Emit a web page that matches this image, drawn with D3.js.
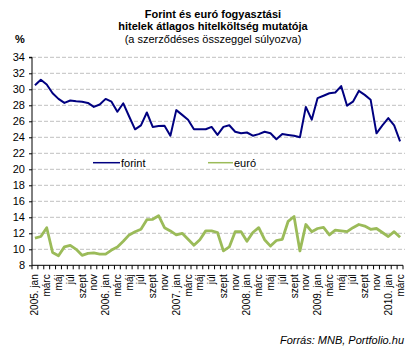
<!DOCTYPE html>
<html><head><meta charset="utf-8">
<script src="https://cdn.jsdelivr.net/npm/d3@7"></script>
<style>body{margin:0;background:#fff}svg{display:block;font-family:"Liberation Sans",Arial,sans-serif}</style>
</head><body><svg id="c" width="413" height="352"></svg>
<script>
const years = ["2005","2006","2007","2008","2009","2010"];
const monthNames = ["jan","febr","márc","ápr","máj","jún","júl","aug","szept","okt","nov","dec"];
const forint = [30.5,31.2,30.6,29.5,28.8,28.3,28.6,28.5,28.45,28.3,27.8,28.1,
  28.8,28.45,27.2,28.25,26.6,25.0,25.5,27.1,25.3,25.4,25.45,24.2,
  27.4,26.8,26.2,25.0,25.0,25.0,25.3,24.3,25.3,25.5,24.7,24.5,
  24.6,24.2,24.4,24.7,24.5,23.75,24.4,24.3,24.2,24.0,27.8,26.2,
  28.9,29.2,29.5,29.6,30.4,27.95,28.45,29.8,29.3,28.7,24.5,25.5,
  26.4,25.5,23.5];
const euro = [11.4,11.6,12.7,9.6,9.2,10.3,10.5,10.0,9.25,9.5,9.55,9.4,
  9.4,9.9,10.3,11.0,11.8,12.2,12.5,13.7,13.75,14.2,12.7,12.3,
  11.8,12.0,11.25,10.5,11.2,12.3,12.3,12.1,9.8,10.3,12.2,12.2,
  11.0,12.1,12.7,11.2,10.4,11.1,11.25,13.5,14.1,9.8,13.1,12.2,
  12.6,12.75,11.8,12.4,12.3,12.2,12.7,13.1,12.9,12.5,12.6,12.1,
  11.6,12.2,11.5];
const yTicks = [8,10,12,14,16,18,20,22,24,26,28,30,32,34];
const seriesNames = ["forint","euró"];
const seriesColors = ["#000080","#9BBB59"];

const categories = forint.map((d,i)=>{
  const m = i%12, y = years[Math.floor(i/12)];
  return m===0 ? y+". "+monthNames[m] : monthNames[m];
});

const svg = d3.select("#c");
const L=32, R=403, T=57.3, B=265.3;
const x = d3.scaleBand().domain(d3.range(forint.length)).range([L,R]);
const y = d3.scaleLinear().domain([8,34]).range([B,T]);

// gridlines
svg.append("g").selectAll("line").data(yTicks.filter(t=>t>8)).join("line")
  .attr("x1",L).attr("x2",R+2).attr("y1",d=>y(d)).attr("y2",d=>y(d))
  .attr("stroke","#c0c0c0").attr("stroke-dasharray","4,2").attr("stroke-width",1);

// y axis
const ya = svg.append("g").attr("transform",`translate(${L},0)`)
  .call(d3.axisLeft(y).tickValues(yTicks).tickSize(3).tickPadding(4));
ya.select(".domain").attr("stroke","#000").attr("d",`M-3,${T}H0V${B}`);
ya.selectAll("text").attr("font-size","11px").attr("fill","#000").attr("font-family","Liberation Sans, Arial");

// x axis
const xa = svg.append("g").attr("transform",`translate(0,${B})`);
xa.append("line").attr("x1",L).attr("x2",R).attr("stroke","#000");
xa.selectAll("line.t").data(d3.range(forint.length+1)).join("line").attr("class","t")
  .attr("x1",d=>L+d*x.step()).attr("x2",d=>L+d*x.step()).attr("y1",0).attr("y2",4).attr("stroke","#000");
xa.selectAll("text").data(categories.map((c,i)=>({c,i})).filter(d=>d.i%2===0)).join("text")
  .attr("transform",d=>`translate(${x(d.i)+x.bandwidth()/2+3.5},9) rotate(-90)`)
  .attr("text-anchor","end").attr("font-size","10px").text(d=>d.c);

const line = d3.line().x((d,i)=>x(i)+x.bandwidth()/2).y(d=>y(d));
svg.append("path").datum(euro).attr("d",line).attr("fill","none")
  .attr("stroke",seriesColors[1]).attr("stroke-width",2.8).attr("stroke-linejoin","round");
svg.append("path").datum(forint).attr("d",line).attr("fill","none")
  .attr("stroke",seriesColors[0]).attr("stroke-width",2).attr("stroke-linejoin","round");

// legend
const lg = [{x1:93,x2:120,tx:121},{x1:208,x2:233,tx:234}];
lg.forEach((l,i)=>{
  svg.append("line").attr("x1",l.x1).attr("x2",l.x2).attr("y1",162.7).attr("y2",162.7)
    .attr("stroke",seriesColors[i]).attr("stroke-width",1.5);
  svg.append("text").attr("x",l.tx).attr("y",166.5).attr("font-size","11px").text(seriesNames[i]);
});

// titles
const tt = svg.append("g").attr("text-anchor","middle");
tt.append("text").attr("x",213).attr("y",18).attr("font-size","11px").attr("font-weight","bold").text("Forint és euró fogyasztási");
tt.append("text").attr("x",213).attr("y",29.5).attr("font-size","11px").attr("font-weight","bold").text("hitelek átlagos hitelköltség mutatója");
tt.append("text").attr("x",213).attr("y",42.5).attr("font-size","11px").text("(a szerződéses összeggel súlyozva)");
svg.append("text").attr("x",20).attr("y",42.5).attr("text-anchor","middle").attr("font-size","11px").attr("font-weight","bold").text("%");
svg.append("text").attr("x",404).attr("y",344).attr("text-anchor","end").attr("font-size","11px").attr("font-style","italic").text("Forrás: MNB, Portfolio.hu");
</script></body></html>
